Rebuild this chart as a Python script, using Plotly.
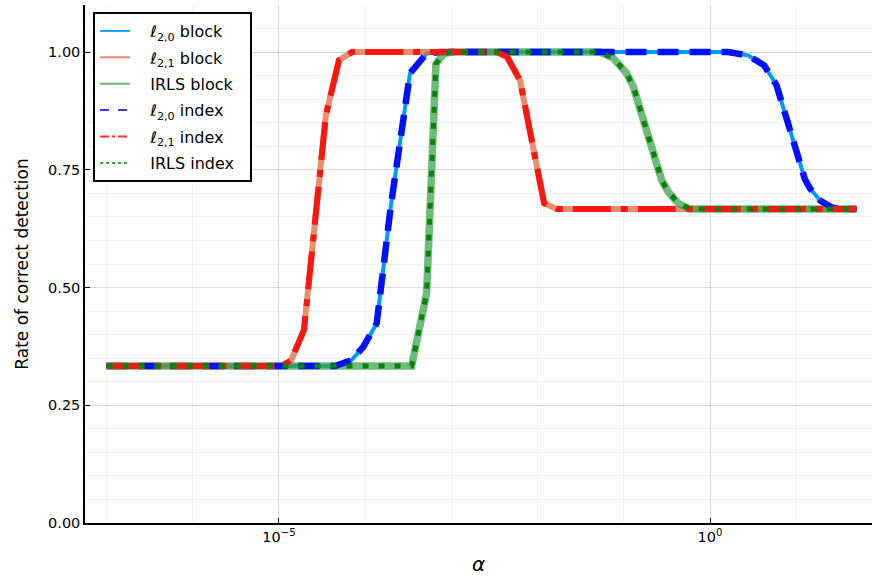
import plotly.graph_objects as go

# ---- data ----
alpha_l20 = [1e-7, 4.47e-5, 6.97e-5, 9.5e-5, 1.36e-4, 1.98e-4, 3.31e-4, 5.16e-4, 7.38e-4,
             1.62, 2.76, 4.24, 5.9, 12.6, 14.5, 18.9, 26.0, 32.2, 50.0]
rate_l20 = [0.3333, 0.3333, 0.346, 0.374, 0.424, 0.672, 0.955, 0.997, 1.0,
            1.0, 0.993, 0.972, 0.93, 0.73, 0.71, 0.685, 0.670, 0.6667, 0.6667]

alpha_l21 = [1e-7, 1.05e-5, 1.38e-5, 1.95e-5, 3.5e-5, 4.97e-5, 7.03e-5,
             3.38e-3, 4.42e-3, 6.25e-3, 1.19e-2, 1.67e-2, 50.0]
rate_l21 = [0.3333, 0.3333, 0.345, 0.41, 0.866, 0.983, 1.0,
            1.0, 0.99, 0.94, 0.679, 0.6667, 0.6667]

alpha_irls = [1e-7, 3.46e-4, 5.16e-4, 6.62e-4, 8.2e-4, 1.02e-3,
              0.053, 0.0755, 0.108, 0.129, 0.275, 0.328, 0.429, 0.586, 50.0]
rate_irls = [0.3333, 0.3333, 0.488, 0.975, 0.997, 1.0,
             1.0, 0.987, 0.955, 0.926, 0.728, 0.703, 0.679, 0.6667, 0.6667]

series_names = ["ℓ<sub>2,0</sub> block", "ℓ<sub>2,1</sub> block", "IRLS block",
                "ℓ<sub>2,0</sub> index", "ℓ<sub>2,1</sub> index", "IRLS index"]
x_tick_vals = [1e-5, 1.0]
x_tick_text = ["10<sup>−5</sup>", "10<sup>0</sup>"]
y_tick_vals = [0.0, 0.25, 0.5, 0.75, 1.0]

# ---- styles ----
plot_styles = [
    dict(x=alpha_l20, y=rate_l20, color="#009AFA", width=4, dash="solid"),
    dict(x=alpha_l21, y=rate_l21, color="rgba(226,111,70,0.78)", width=6, dash="solid"),
    dict(x=alpha_irls, y=rate_irls, color="rgba(62,164,78,0.75)", width=7.5, dash="solid"),
    dict(x=alpha_l20, y=rate_l20, color="#0010FA", width=6.5, dash="21px,11px"),
    dict(x=alpha_l21, y=rate_l21, color="#F8180F", width=6, dash="38px,10px,7px,10px"),
    dict(x=alpha_irls, y=rate_irls, color="#0B820B", width=5, dash="6px,10px"),
]
legend_styles = [
    ("#1A9FF5", "solid"), ("#EA8B6B", "solid"), ("#66BA70", "solid"),
    ("#3A3AFF", "dash"), ("#FF3030", "dashdot"), ("#3AA03A", "dot"),
]

fig = go.Figure()
for name, st in zip(series_names, plot_styles):
    fig.add_trace(go.Scatter(x=st["x"], y=st["y"], mode="lines", name=name,
                             showlegend=False,
                             line=dict(color=st["color"], width=st["width"], dash=st["dash"])))
for i, (name, (c, d)) in enumerate(zip(series_names, legend_styles)):
    fig.add_trace(go.Scatter(x=[None], y=[None], mode="lines",
                             name="\u00a0\u00a0\u00a0" + name + "\u00a0\u00a0",
                             legendgroup=f"g{i}",
                             line=dict(color=c, width=2, dash=d)))

fig.update_layout(
    width=872, height=577,
    margin=dict(l=85, r=0, t=5, b=54),
    paper_bgcolor="white", plot_bgcolor="white",
    font=dict(family="DejaVu Sans", color="black"),
    showlegend=True,
    legend=dict(x=0.0102, y=0.9865, xanchor="left", yanchor="top",
                bgcolor="white", bordercolor="black", borderwidth=2,
                font=dict(size=16, family="DejaVu Sans"),
                tracegroupgap=2.6, itemwidth=30),
)
fig.update_xaxes(
    type="log", range=[-7.25, 1.879], automargin=False,
    tickmode="array", tickvals=x_tick_vals, ticktext=x_tick_text,
    tickfont=dict(size=14.5), ticks="inside", ticklen=5, tickcolor="black",
    showline=True, linecolor="black", linewidth=1.5, mirror=False,
    showgrid=True, gridcolor="rgba(0,0,0,0.11)", gridwidth=1,
    minor=dict(dtick=1, showgrid=True, gridcolor="rgba(0,0,0,0.05)", gridwidth=1),
    zeroline=False,
    title=dict(text="<i>α</i>", font=dict(size=20), standoff=13),
)
fig.update_yaxes(
    range=[0, 1.1], automargin=False,
    tickmode="array", tickvals=y_tick_vals, tickformat=".2f",
    tickfont=dict(size=14.5), ticks="inside", ticklen=5, tickcolor="black",
    showline=True, linecolor="black", linewidth=1.5, mirror=False,
    showgrid=True, gridcolor="rgba(0,0,0,0.11)", gridwidth=1,
    minor=dict(dtick=0.05, showgrid=True, gridcolor="rgba(0,0,0,0.05)", gridwidth=1),
    zeroline=False,
    title=dict(text="Rate of correct detection", font=dict(size=17), standoff=15),
)

fig.write_html("out.html",
               config={"displayModeBar": False},
               post_script="document.body.style.margin='0';document.body.style.overflow='hidden';")
